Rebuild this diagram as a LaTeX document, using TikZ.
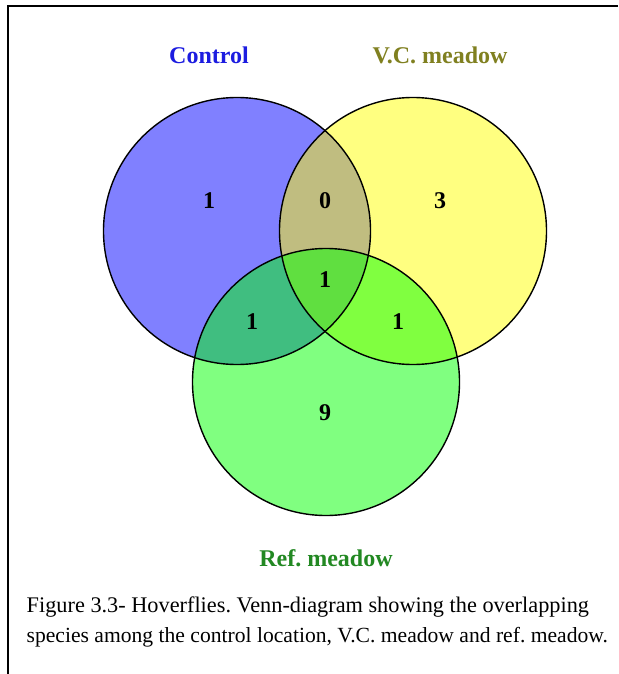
\documentclass[tikz,border=0pt]{standalone}
\usepackage{fontspec}
\setmainfont{Liberation Serif}
\usepackage{xcolor}
\usepackage{tikz}
\definecolor{ctrlfill}{HTML}{8080FF}
\definecolor{vcfill}{HTML}{FFFF80}
\definecolor{reffill}{HTML}{80FF80}
\definecolor{ctrlvc}{HTML}{C0BD80}
\definecolor{ctrlref}{HTML}{40BE80}
\definecolor{vcref}{HTML}{80FF40}
\definecolor{allthree}{HTML}{60DF40}
\definecolor{ctrltext}{HTML}{1C1CE0}
\definecolor{vctext}{HTML}{808020}
\definecolor{reftext}{HTML}{228822}
\frenchspacing

\begin{document}
\begin{tikzpicture}[x=1pt, y=-1pt, line width=1.4pt,
  setlabel/.style={font=\fontsize{24}{28}\selectfont\bfseries},
  count/.style={font=\fontsize{24}{28}\selectfont\bfseries},
  caption/.style={anchor=base west, inner sep=0pt, font=\fontsize{22.3}{26}\selectfont}]

  \useasboundingbox (0,0) rectangle (618,674);

  % centres of the three sets, all circles have the same radius
  \coordinate (ctrl) at (237,231);
  \coordinate (vc)   at (413,231);
  \coordinate (ref)  at (326,382);
  \def\rad{133.5pt}

  % plain fills first, then the overlaps painted on top through clips
  \fill[ctrlfill] (ctrl) circle (\rad);
  \fill[vcfill]   (vc)   circle (\rad);
  \fill[reffill]  (ref)  circle (\rad);
  \begin{scope}
    \clip (ctrl) circle (\rad);
    \fill[ctrlvc]  (vc)  circle (\rad);
    \fill[ctrlref] (ref) circle (\rad);
    \clip (vc) circle (\rad);
    \fill[allthree] (ref) circle (\rad);
  \end{scope}
  \begin{scope}
    \clip (vc) circle (\rad);
    \clip (ref) circle (\rad);
    \begin{scope}[even odd rule]
      \clip (0,0) rectangle (618,674) (ctrl) circle (\rad);
      \fill[vcref] (ref) circle (\rad);
    \end{scope}
  \end{scope}
  \foreach \c in {ctrl, vc, ref}
    \draw (\c) circle (\rad);

  % set names
  \node[setlabel, text=ctrltext] (ctrlname) at (209,55)  {Control};
  \node[setlabel, text=vctext]   (vcname)   at (440,55)  {V.C. meadow};
  \node[setlabel, text=reftext]  (refname)  at (326,558) {Ref. meadow};

  % species counts per region
  \node[count] (nctrl)    at (209,201) {1};
  \node[count] (nctrlvc)  at (325,201) {0};
  \node[count] (nvc)      at (440,201) {3};
  \node[count] (nall)     at (325,280) {1};
  \node[count] (nctrlref) at (252,322) {1};
  \node[count] (nvcref)   at (398,322) {1};
  \node[count] (nref)     at (325,413) {9};

  % frame of the figure box (only top and left show)
  \draw[line width=2pt] (618,6) -- (8,6) -- (8,674);

  \node[caption] (capone) at (26,612) {Figure 3.3- Hoverflies. Venn-diagram showing the overlapping};
  \node[caption, font=\fontsize{21.6}{26}\selectfont] (captwo) at (26,642)
    {species among the control location, V.C. meadow and ref. meadow.};

\end{tikzpicture}
\end{document}
